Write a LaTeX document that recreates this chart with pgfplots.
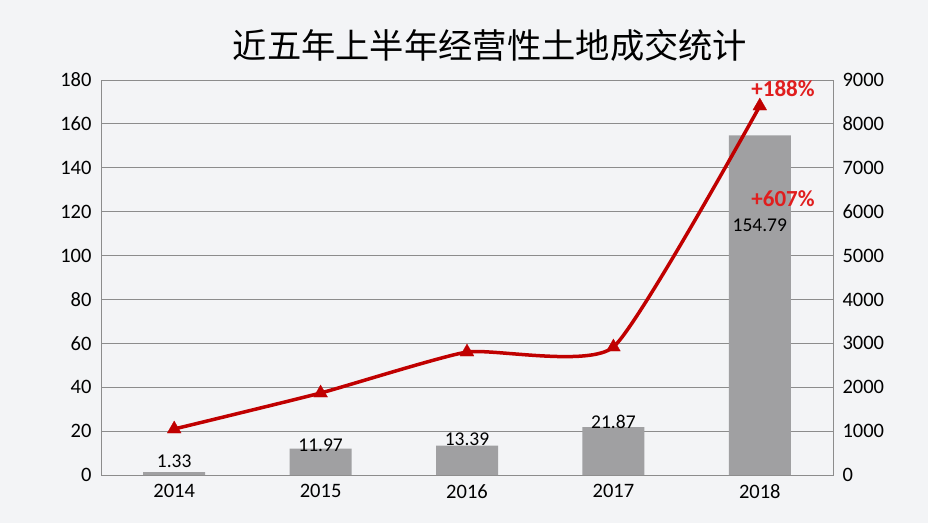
\documentclass[border=0pt]{standalone}
\usepackage{pgfplots}
\pgfplotsset{compat=1.18}
\usepackage{fontspec}
\setmainfont{Carlito}
\newfontfamily\cjk{Noto Sans CJK SC}
\definecolor{bg}{HTML}{F3F4F6}
\definecolor{bargray}{HTML}{A0A0A2}
\definecolor{linered}{HTML}{C00000}
\definecolor{txtred}{HTML}{E01E1E}
\definecolor{gridgray}{HTML}{8C8C8C}
\begin{document}
\begin{tikzpicture}[x=1pt,y=1pt]
\path[use as bounding box, fill=bg] (-101,-48) rectangle (827,475);
\begin{axis}[at={(0,0)}, anchor=south west, scale only axis, width=732pt, height=395pt,
  xmin=-0.5, xmax=4.5, ymin=0, ymax=180,
  ytick={0,20,...,180}, xtick={0,1,2,3,4}, xticklabels={2014,2015,2016,2017,2018},
  axis line style={gridgray, line width=0.8pt}, ymajorgrids, grid style={gridgray, line width=0.8pt},
  major tick length=0,
  ticklabel style={font=\fontsize{20.5}{24}\selectfont, text=black},
  /pgf/number format/assume math mode=true,
  yticklabel style={xshift=-6pt},
  xticklabel style={yshift=-6pt},
  clip=false]
\addplot[ybar, bar width=62pt, fill=bargray, draw=none] coordinates {(0,1.33)(1,11.97)(2,13.39)(3,21.87)(4,154.79)};
\node[font=\fontsize{19.5}{22}\selectfont] at (axis cs:0,6.4) {1.33};
\node[font=\fontsize{19.5}{22}\selectfont] at (axis cs:1,13.4) {11.97};
\node[font=\fontsize{19.5}{22}\selectfont] at (axis cs:2,16.2) {13.39};
\node[font=\fontsize{19.5}{22}\selectfont] at (axis cs:3,24.4) {21.87};
\node[font=\fontsize{19.5}{22}\selectfont] at (axis cs:4,113.7) {154.79};
\end{axis}
\begin{axis}[at={(0,0)}, anchor=south west, scale only axis, width=732pt, height=395pt,
  xmin=-0.5, xmax=4.5, ymin=0, ymax=9000,
  axis y line*=right, axis x line=none,
  ytick={0,1000,...,9000},
  axis line style={gridgray, line width=0.8pt},
  major tick length=0,
  ticklabel style={font=\fontsize{20.5}{24}\selectfont, text=black},
  /pgf/number format/assume math mode=true,
  /pgf/number format/set thousands separator={},
  yticklabel style={xshift=6pt},
  clip=false]
\addplot[linered, line width=3.5pt, smooth, tension=0.3, mark=triangle*, mark size=8pt,
  mark options={solid, fill=linered, line width=0.3pt}] coordinates {(0,1048)(1,1868)(2,2802)(3,2916)(4,8407)};
\end{axis}
\node[font=\cjk\fontsize{34.3}{40}\selectfont] at (389,430) {近五年上半年经营性土地成交统计};
\node[text=txtred, font=\bfseries\fontsize{23}{26}\selectfont] at (682,386) {+188\%};
\node[text=txtred, font=\bfseries\fontsize{23}{26}\selectfont] at (682,276) {+607\%};
\end{tikzpicture}
\end{document}
